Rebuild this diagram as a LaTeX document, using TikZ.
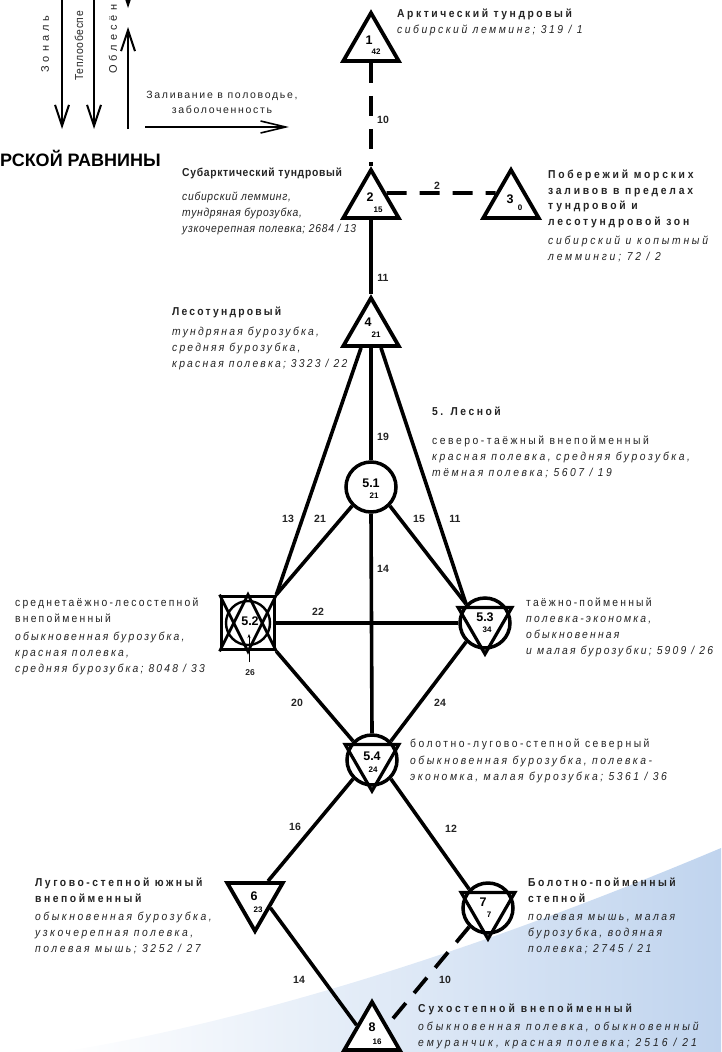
\documentclass[tikz,border=0pt]{standalone}
\usepackage{fontspec}
\setmainfont{Liberation Sans}
\newfontfamily\lbl{Liberation Sans}[FakeStretch=0.9,LetterSpace=22]
\newfontfamily\lbln{Liberation Sans}[FakeStretch=0.9,LetterSpace=6]
\newfontfamily\lbls{Liberation Sans}[FakeStretch=0.9,LetterSpace=19]
\newfontfamily\lblm{Liberation Sans}[FakeStretch=0.9,LetterSpace=24]
\newfontfamily\lblw{Liberation Sans}[FakeStretch=0.9,LetterSpace=26]
\newfontfamily\spcd{Liberation Sans}[LetterSpace=16]
\newfontfamily\spcw{Liberation Sans}[LetterSpace=37]
\usetikzlibrary{shapes.geometric,arrows.meta}
\definecolor{inkgray}{RGB}{35,35,35}
\definecolor{swoosh}{RGB}{192,212,238}

\begin{document}
\begin{tikzpicture}[x=1pt,y=1pt]
	\tikzstyle{every node}+=[inner sep=0pt]
	\tikzstyle{tri}=[draw, fill=white, line width=3.8pt, regular polygon, regular polygon sides=3, minimum size=64pt]
	\tikzstyle{itri}=[tri, fill=none, line width=3.2pt, shape border rotate=180, minimum size=62pt]
	\tikzstyle{ring}=[draw, fill=white, circle, line width=3.5pt, minimum size=50pt]
	\tikzstyle{box}=[draw, fill=white, rectangle, line width=3.8pt, minimum size=53pt]
	\tikzstyle{link}=[line width=3.6pt]
	\tikzstyle{brk}=[line width=3.8pt, dash pattern=on 20pt off 13pt]
	\tikzstyle{flow}=[line width=2pt, -{Straight Barb[length=21pt,width=14pt]}]
	\tikzstyle{num}=[text=inkgray, font=\bfseries\fontsize{10.5}{10.5}\selectfont]
	\tikzstyle{big}=[font=\bfseries\fontsize{12.5}{12.5}\selectfont]
	\tikzstyle{sml}=[font=\bfseries\fontsize{8}{8}\selectfont]
	\tikzstyle{txt}=[anchor=north west, align=left, text=inkgray, font=\lbl\fontsize{11.5}{16}\selectfont]
	\useasboundingbox (0,0) rectangle (721,-1052);
	% background
	\shade[left color=white, right color=swoosh] (60,-1052) .. controls (200,-1030) and (420,-975) .. (721,-848) -- (721,-1052) -- cycle;
	% factor arrows
	\coordinate (za) at (62,5);
	\coordinate (zb) at (62,-129);
	\coordinate (ta) at (94,5);
	\coordinate (tb) at (94,-129);
	\coordinate (oa) at (128,-129);
	\coordinate (ob) at (128,-27);
	\coordinate (oc) at (128,30);
	\coordinate (od) at (128,-8);
	\coordinate (fa) at (145,-127);
	\coordinate (fb) at (289,-127);
	\draw[flow] (za) -- (zb);
	\draw[flow] (ta) -- (tb);
	\draw[flow] (oa) -- (ob);
	\draw[flow] (oc) -- (od);
	\draw[line width=1.6pt, -{Straight Barb[length=25pt,width=12pt]}] (fa) -- (fb);
	\node[rotate=90, anchor=west, text=inkgray, font=\spcw\fontsize{11}{11}\selectfont] (zon) at (45,-73) {Зональ};
	\node[rotate=90, anchor=west, text=inkgray, font=\lbln\fontsize{11.5}{11.5}\selectfont] (tep) at (79,-81) {Теплообеспе};
	\node[rotate=90, anchor=west, text=inkgray, font=\spcw\fontsize{11}{11}\selectfont] (obl) at (113,-74) {Облесён};
	\node[align=center, text=inkgray, font=\spcd\fontsize{10.5}{15}\selectfont] (flood) at (222,-102) {Заливание в половодье,\\заболоченность};
	\node[anchor=west, font=\bfseries\fontsize{18}{18}\selectfont] (ttl) at (0,-158) {РСКОЙ РАВНИНЫ};
	% nodes
	\node[tri] (n1) at (371,-45) {};
	\node[tri] (n2) at (371,-202) {};
	\node[tri] (n3) at (511,-202) {};
	\node[tri] (n4) at (371,-330) {};
	\node[ring] (c51) at (371,-487) {};
	\node[box] (s52) at (248,-623) {};
	\node[ring] (c53) at (485,-623) {};
	\node[itri] (c53t) at (c53) {};
	\node[ring] (c54) at (372,-760) {};
	\node[itri] (c54t) at (c54) {};
	\node[tri, shape border rotate=180] (n6) at (255,-899) {};
	\node[ring] (c7) at (488,-908) {};
	\node[itri] (c7t) at (c7) {};
	\node[tri] (n8) at (372,-1034) {};
	\draw[line width=2.8pt] (s52.south west) -- (s52.north) -- (s52.south east);
	\draw[line width=2.8pt] (s52.north west) -- (s52.south) -- (s52.north east);
	\draw[line width=2.4pt] (s52) circle (22);
	% connectors
	\draw[brk] (n1.south) -- (n2.north);
	\draw[brk] (n2.30) -- (n3.150);
	\draw[link] (n2.south) -- (n4.north);
	\draw[link] (n4.south) -- (c51.north);
	\draw[link] ([xshift=-10pt]n4.south) -- (s52.north east);
	\draw[link] ([xshift=10pt]n4.south) -- (c53.135);
	\draw[link] (c51.225) -- (s52.north east);
	\draw[link] (c51.-45) -- (c53.135);
	\draw[link] (c51.south) -- (c54.north);
	\draw[link] (s52.east) -- (c53.west);
	\draw[link] (s52.south east) -- (c54.135);
	\draw[link] (c53.225) -- (c54.45);
	\draw[link] (c54.225) -- ([xshift=13pt]n6.north);
	\draw[link] (n6.330) -- (n8.150);
	\draw[link] (c54.-45) -- (c7.135);
	\draw[brk] (c7.225) -- (n8.30);
	% numbers inside the signs
	\node[big] (k1) at ([xshift=-2pt,yshift=5pt]n1) {1};
	\node[sml] (q1) at ([xshift=5pt,yshift=-7pt]n1) {42};
	\node[big] (k2) at ([xshift=-1pt,yshift=5pt]n2) {2};
	\node[sml] (q2) at ([xshift=7pt,yshift=-8pt]n2) {15};
	\node[big] (k3) at ([xshift=-1pt,yshift=3pt]n3) {3};
	\node[sml] (q3) at ([xshift=9pt,yshift=-6pt]n3) {0};
	\node[big] (k4) at ([xshift=-3pt,yshift=8pt]n4) {4};
	\node[sml] (q4) at ([xshift=5pt,yshift=-5pt]n4) {21};
	\node[big] (k51) at ([yshift=4pt]c51) {5.1};
	\node[sml] (q51) at ([xshift=3pt,yshift=-9pt]c51) {21};
	\node[big] (k52) at ([xshift=2pt,yshift=2pt]s52) {5.2};
	\node[big] (k53) at ([yshift=6pt]c53) {5.3};
	\node[sml] (q53) at ([xshift=2pt,yshift=-7pt]c53) {34};
	\node[big] (k54) at ([yshift=4pt]c54) {5.4};
	\node[sml] (q54) at ([xshift=1pt,yshift=-10pt]c54) {24};
	\node[big] (k6) at ([xshift=-1pt,yshift=3pt]n6) {6};
	\node[sml] (q6) at ([xshift=3pt,yshift=-11pt]n6) {23};
	\node[big] (k7) at ([xshift=-5pt,yshift=6pt]c7) {7};
	\node[sml] (q7) at ([xshift=1pt,yshift=-7pt]c7) {7};
	\node[big] (k8) at ([yshift=7pt]n8) {8};
	\node[sml] (q8) at ([xshift=5pt,yshift=-8pt]n8) {16};
	\coordinate (r26a) at (249,-662);
	\coordinate (r26b) at (249,-634);
	\draw[line width=0.8pt, -{Stealth[length=4pt,width=3pt]}] (r26a) -- (r26b);
	\node[num, font=\bfseries\fontsize{8.5}{8.5}\selectfont] (e26) at (250,-673) {26};
	% connector numbers
	\node[num] (e10a) at (383,-120) {10};
	\node[num] (e2) at (437,-186) {2};
	\node[num] (e11a) at (383,-278) {11};
	\node[num] (e19) at (383,-437) {19};
	\node[num] (e13) at (288,-519) {13};
	\node[num] (e21) at (320,-519) {21};
	\node[num] (e15) at (419,-519) {15};
	\node[num] (e11b) at (455,-519) {11};
	\node[num] (e14a) at (383,-569) {14};
	\node[num] (e22) at (318,-612) {22};
	\node[num] (e20) at (297,-703) {20};
	\node[num] (e24) at (440,-703) {24};
	\node[num] (e16) at (295,-827) {16};
	\node[num] (e12) at (451,-829) {12};
	\node[num] (e14b) at (299,-980) {14};
	\node[num] (e10b) at (445,-980) {10};
	% descriptions
	\node[txt] (t1) at (397,-9) {\textbf{Арктический тундровый}\\\textit{сибирский лемминг; 319 / 1}};
	\node[txt, font=\lbln\fontsize{11.5}{16}\selectfont] (t2) at (182,-168) {\textbf{Субарктический тундровый}\\[8pt]\textit{сибирский лемминг,}\\\textit{тундряная бурозубка,}\\\textit{узкочерепная полевка; 2684 / 13}};
	\node[txt, font=\lblm\fontsize{11.5}{15.5}\selectfont] (t3) at (548,-170) {\textbf{Побережий морских}\\\textbf{заливов в пределах}\\\textbf{тундровой и}\\\textbf{лесотундровой зон}\\[4pt]\textit{сибирский и копытный}\\\textit{лемминги; 72 / 2}};
	\node[txt, font=\lbls\fontsize{11.5}{16}\selectfont] (t4) at (172,-307) {\textbf{Лесотундровый}\\[4pt]\textit{тундряная бурозубка,}\\\textit{средняя бурозубка,}\\\textit{красная полевка; 3323 / 22}};
	\node[txt] (t5) at (432,-407) {\textbf{5. Лесной}\\[13pt]северо-таёжный внепойменный\\\textit{красная полевка, средняя бурозубка,}\\\textit{тёмная полевка; 5607 / 19}};
	\node[txt, font=\lbls\fontsize{11.5}{16}\selectfont] (t52) at (15,-598) {среднетаёжно-лесостепной\\внепойменный\\[2pt]\textit{обыкновенная бурозубка,}\\\textit{красная полевка,}\\\textit{средняя бурозубка; 8048 / 33}};
	\node[txt, font=\lbls\fontsize{11.5}{16}\selectfont] (t53) at (526,-598) {таёжно-пойменный\\\textit{полевка-экономка,}\\\textit{обыкновенная}\\\textit{и малая бурозубки; 5909 / 26}};
	\node[txt] (t54) at (410,-739) {болотно-лугово-степной северный\\[1pt]\textit{обыкновенная бурозубка, полевка-}\\\textit{экономка, малая бурозубка; 5361 / 36}};
	\node[txt] (t6) at (35,-878) {\textbf{Лугово-степной южный}\\\textbf{внепойменный}\\[2pt]\textit{обыкновенная бурозубка,}\\\textit{узкочерепная полевка,}\\\textit{полевая мышь; 3252 / 27}};
	\node[txt] (t7) at (528,-878) {\textbf{Болотно-пойменный}\\\textbf{степной}\\[2pt]\textit{полевая мышь, малая}\\\textit{бурозубка, водяная}\\\textit{полевка; 2745 / 21}};
	\node[txt, font=\lblw\fontsize{11.5}{16}\selectfont] (t8) at (418,-1004) {\textbf{Сухостепной внепойменный}\\[2pt]\textit{обыкновенная полевка, обыкновенный}\\\textit{емуранчик, красная полевка; 2516 / 21}};
\end{tikzpicture}
\end{document}
